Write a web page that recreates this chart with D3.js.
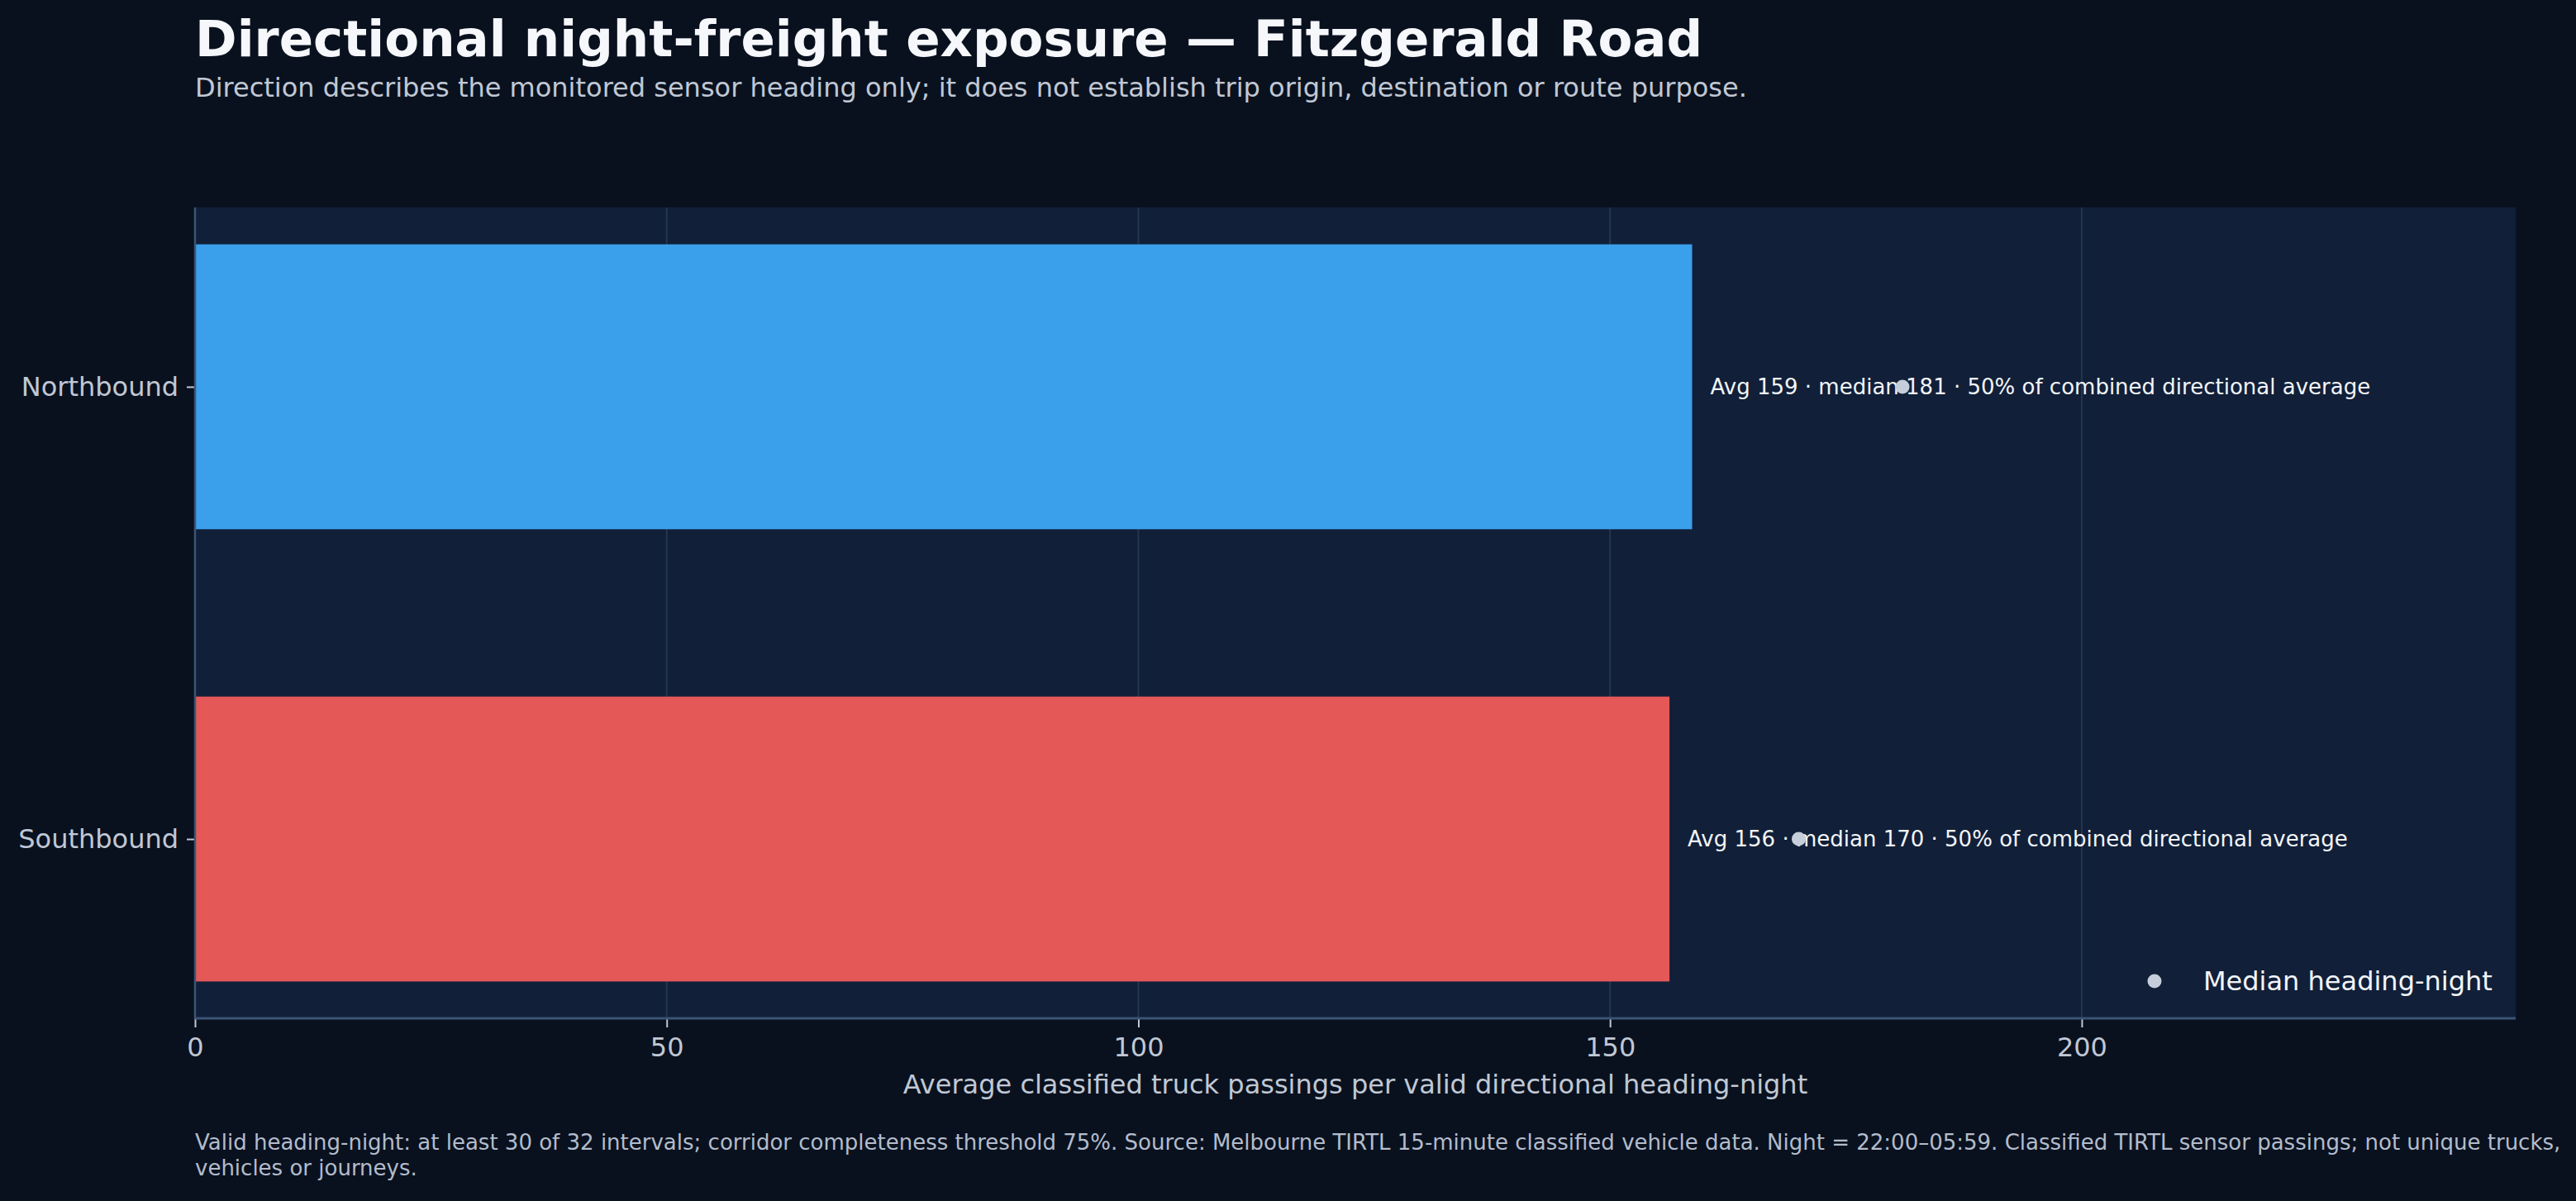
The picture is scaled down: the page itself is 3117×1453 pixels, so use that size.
<!DOCTYPE html>
<html>
<head>
<meta charset="utf-8">
<script src="https://cdn.jsdelivr.net/npm/d3@7"></script>
<style>
  html, body { margin: 0; padding: 0; background: #09111f; }
  svg { display: block; font-family: "DejaVu Sans", sans-serif; }
</style>
</head>
<body>
<div id="chart"></div>
<script>
// data
const categories = ['Northbound', 'Southbound'];
const avgValues = [158.7, 156.3];
const medianValues = [181, 170];
const xTicks = [0, 50, 100, 150, 200];
const barColors = ['#3ba0ec', '#e55858'];

const title = 'Directional night-freight exposure — Fitzgerald Road';
const subtitle = 'Direction describes the monitored sensor heading only; it does not establish trip origin, destination or route purpose.';
const xLabel = 'Average classified truck passings per valid directional heading-night';
const footer = [
  'Valid heading-night: at least 30 of 32 intervals; corridor completeness threshold 75%. Source: Melbourne TIRTL 15-minute classified vehicle data. Night = 22:00–05:59. Classified TIRTL sensor passings; not unique trucks,',
  'vehicles or journeys.'
];

const W = 3117, H = 1453;
const plot = { left: 236, right: 3044, top: 251, bottom: 1232 };
const barH = 0.63;
const pad = 0.05 * (categories.length - 1 + barH);

const svg = d3.select('#chart').append('svg')
  .attr('width', W)
  .attr('height', H);

svg.append('rect').attr('width', W).attr('height', H).attr('fill', '#09111f');

const x = d3.scaleLinear()
  .domain([0, 246])
  .range([plot.left, plot.right]);

const y = d3.scaleLinear()
  .domain([-barH / 2 - pad, categories.length - 1 + barH / 2 + pad])
  .range([plot.top, plot.bottom]);

const bandPx = y(barH) - y(0);

// plot background
svg.append('rect')
  .attr('x', plot.left).attr('y', plot.top)
  .attr('width', plot.right - plot.left).attr('height', plot.bottom - plot.top)
  .attr('fill', '#111f38');

// vertical grid
svg.append('g')
  .selectAll('line')
  .data(xTicks.filter(d => d > 0))
  .join('line')
  .attr('x1', d => x(d)).attr('x2', d => x(d))
  .attr('y1', plot.top).attr('y2', plot.bottom)
  .attr('stroke', '#24364f')
  .attr('stroke-width', 2);

// bars
const data = categories.map((c, i) => ({ cat: c, i, avg: avgValues[i], med: medianValues[i] }));
const total = d3.sum(avgValues);

svg.append('g')
  .selectAll('rect')
  .data(data)
  .join('rect')
  .attr('x', x(0))
  .attr('y', d => y(d.i) - bandPx / 2)
  .attr('width', d => x(d.avg) - x(0))
  .attr('height', bandPx)
  .attr('fill', (d, i) => barColors[i]);

// annotations
svg.append('g')
  .selectAll('text')
  .data(data)
  .join('text')
  .attr('x', d => x(d.avg) + 22)
  .attr('y', d => y(d.i))
  .attr('dy', '0.35em')
  .attr('font-size', 26)
  .attr('fill', '#f2f5f9')
  .text(d => `Avg ${Math.round(d.avg)} · median ${Math.round(d.med)} · ${Math.round(d.avg / total * 100)}% of combined directional average`);

// median dots (drawn above text)
svg.append('g')
  .selectAll('circle')
  .data(data)
  .join('circle')
  .attr('cx', d => x(d.med))
  .attr('cy', d => y(d.i))
  .attr('r', 8.5)
  .attr('fill', '#c5ceda');

// x axis
const xAxis = svg.append('g')
  .attr('transform', `translate(0,${plot.bottom})`)
  .call(d3.axisBottom(x).tickValues(xTicks).tickSize(11).tickPadding(12).tickFormat(d3.format('d')));
xAxis.select('.domain').remove();
xAxis.selectAll('.tick line').attr('stroke', '#c0c8d4').attr('stroke-width', 2);
xAxis.selectAll('.tick text')
  .attr('fill', '#c0c8d4')
  .attr('font-size', 32)
  .attr('font-family', '"DejaVu Sans", sans-serif');

// y axis
const yAxis = svg.append('g')
  .attr('transform', `translate(${plot.left},0)`)
  .call(d3.axisLeft(y).tickValues(data.map(d => d.i)).tickSize(10).tickPadding(10)
    .tickFormat(i => categories[i]));
yAxis.select('.domain').remove();
yAxis.selectAll('.tick line').attr('stroke', '#c0c8d4').attr('stroke-width', 2);
yAxis.selectAll('.tick text')
  .attr('fill', '#c0c8d4')
  .attr('font-size', 32)
  .attr('font-family', '"DejaVu Sans", sans-serif');

// spines
svg.append('line')
  .attr('x1', plot.left).attr('x2', plot.left)
  .attr('y1', plot.top).attr('y2', plot.bottom)
  .attr('stroke', '#3c5476').attr('stroke-width', 2.5);
svg.append('line')
  .attr('x1', plot.left).attr('x2', plot.right)
  .attr('y1', plot.bottom).attr('y2', plot.bottom)
  .attr('stroke', '#3c5476').attr('stroke-width', 3);

// x label
svg.append('text')
  .attr('x', (plot.left + plot.right) / 2)
  .attr('y', 1323)
  .attr('text-anchor', 'middle')
  .attr('font-size', 32)
  .attr('fill', '#c0c8d4')
  .text(xLabel);

// legend
svg.append('circle')
  .attr('cx', 2607).attr('cy', 1187)
  .attr('r', 8.5)
  .attr('fill', '#c5ceda');
svg.append('text')
  .attr('x', 2666).attr('y', 1187)
  .attr('dy', '0.35em')
  .attr('font-size', 32)
  .attr('fill', '#f2f5f9')
  .text('Median heading-night');

// titles
svg.append('text')
  .attr('x', 236).attr('y', 68)
  .attr('font-size', 61)
  .attr('font-weight', 'bold')
  .attr('fill', '#f5f7fa')
  .text(title);

svg.append('text')
  .attr('x', 236).attr('y', 117)
  .attr('font-size', 32)
  .attr('fill', '#c0c8d4')
  .text(subtitle);

// footer
svg.append('g')
  .selectAll('text')
  .data(footer)
  .join('text')
  .attr('x', 236)
  .attr('y', (d, i) => 1391 + i * 31)
  .attr('font-size', 26)
  .attr('fill', '#b3bccb')
  .text(d => d);
</script>
</body>
</html>
